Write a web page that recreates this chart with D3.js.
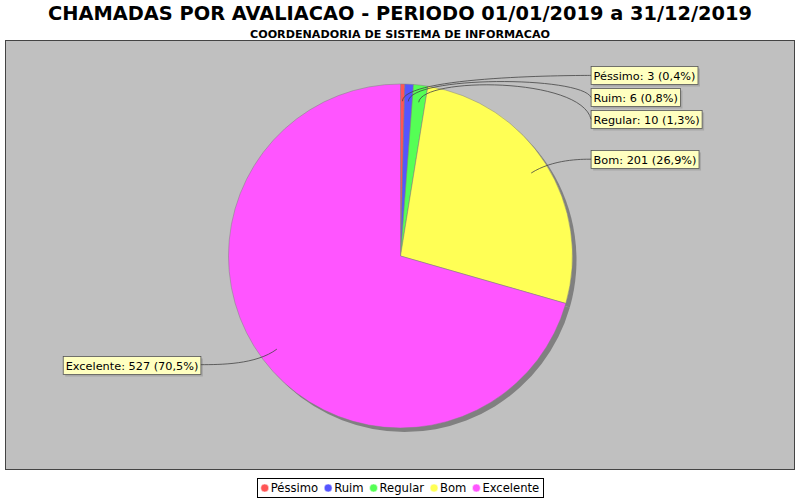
<!DOCTYPE html>
<html><head><meta charset="utf-8">
<script src="https://cdn.jsdelivr.net/npm/d3@7/dist/d3.min.js"></script>
<style>body{margin:0;background:#fff;} svg{display:block;}</style>
</head><body>
<svg id="chart" width="800" height="500"></svg>
<script>
const categories = ["Péssimo", "Ruim", "Regular", "Bom", "Excelente"];
const values = [3, 6, 10, 201, 527];
const colors = ["#FF5555", "#5555FF", "#55FF55", "#FFFF55", "#FF55FF"];
const titleText = "CHAMADAS POR AVALIACAO - PERIODO 01/01/2019 a 31/12/2019";
const subtitleText = "COORDENADORIA DE SISTEMA DE INFORMACAO";

const W = 800, H = 500;
const svg = d3.select("#chart");
svg.append("rect").attr("width", W).attr("height", H).attr("fill", "#fff");

// titles
svg.append("text").attr("x", 400).attr("y", 19.5).attr("text-anchor", "middle")
  .attr("font-family", "DejaVu Sans").attr("font-weight", "bold")
  .attr("font-size", 19).attr("textLength", 704).attr("lengthAdjust", "spacingAndGlyphs")
  .attr("fill", "#000").text(titleText);
svg.append("text").attr("x", 400).attr("y", 37.5).attr("text-anchor", "middle")
  .attr("font-family", "DejaVu Sans").attr("font-weight", "bold")
  .attr("font-size", 10).attr("textLength", 300).attr("lengthAdjust", "spacingAndGlyphs")
  .attr("fill", "#000").text(subtitleText);

// plot area
const plot = {x: 5.5, y: 40.5, w: 789, h: 429};
svg.append("rect").attr("x", plot.x).attr("y", plot.y).attr("width", plot.w).attr("height", plot.h)
  .attr("fill", "#C0C0C0").attr("stroke", "#444").attr("stroke-width", 1);

const cx = 400.5, cy = 256, r = 172;
const total = d3.sum(values);
const pie = d3.pie().sort(null).value(d => d.v).startAngle(0).endAngle(2 * Math.PI);
const data = categories.map((c, i) => ({c, v: values[i], color: colors[i]}));
const arcsData = pie(data);
const arc = d3.arc().innerRadius(0).outerRadius(r);

// shadow
const gShadow = svg.append("g").attr("transform", `translate(${cx + 4},${cy + 4})`);
gShadow.selectAll("path").data(arcsData).join("path").attr("d", arc).attr("fill", "#808080");

const g = svg.append("g").attr("transform", `translate(${cx},${cy})`);
g.selectAll("path").data(arcsData).join("path").attr("d", arc)
  .attr("fill", d => d.data.color).attr("stroke", "#808080").attr("stroke-width", 0.5);

// labels
const fmt = v => (Math.round(v * 1000) / 10).toFixed(1).replace(".", ",");
const linkR = r * 0.9, elbowR = r * 1.05;
const labels = arcsData.map(d => {
  const a = (d.startAngle + d.endAngle) / 2; // compass angle, clockwise from top
  const sx = Math.sin(a), sy = -Math.cos(a);
  return {
    text: `${d.data.c}: ${d.data.v} (${fmt(d.data.v / total)}%)`,
    right: sx >= 0,
    linkX: cx + sx * linkR, linkY: cy + sy * linkR,
    elbowX: cx + sx * elbowR, elbowY: cy + sy * elbowR
  };
});
const spacing = 22;
["right", "left"].forEach(side => {
  const arr = labels.filter(l => (side === "right") === l.right).sort((a, b) => a.elbowY - b.elbowY);
  let prev = -Infinity;
  arr.forEach(l => { l.y = Math.max(l.elbowY, prev + spacing); prev = l.y; });
});

const gap = 10;
const lg = svg.append("g");
labels.forEach(l => {
  const anchorX = l.right ? cx + elbowR : cx - elbowR;
  const targetX = l.right ? anchorX + gap : anchorX - gap - 9;
  const path = d3.path();
  path.moveTo(targetX, l.y);
  path.bezierCurveTo(anchorX, l.elbowY, l.elbowX, l.elbowY, l.linkX, l.linkY);
  lg.append("path").attr("d", path.toString()).attr("fill", "none")
    .attr("stroke", "#444").attr("stroke-width", 0.8);
  const t = lg.append("text").attr("font-family", "DejaVu Sans").attr("font-size", 11.3)
    .attr("fill", "#000").text(l.text);
  const tw = t.node().getComputedTextLength();
  const bw = tw + 5, bh = 18;
  const bx = l.right ? targetX : targetX - bw;
  const by = Math.round(l.y - bh / 2) + 0.5;
  lg.insert("rect", "text").attr("x", bx + 2).attr("y", by + 2).attr("width", bw).attr("height", bh)
    .attr("fill", "#979797").attr("fill-opacity", 0.6);
  lg.insert("rect", "text").attr("x", bx).attr("y", by).attr("width", bw).attr("height", bh)
    .attr("fill", "#FFFFC0").attr("stroke", "#555").attr("stroke-width", 0.8);
  t.attr("x", bx + 2.5).attr("y", by + 13);
});

// legend
const leg = svg.append("g");
const items = leg.selectAll("g").data(data).join("g");
const itemNodes = [];
items.each(function(d) {
  const gi = d3.select(this);
  gi.append("circle").attr("cx", 4).attr("cy", 0).attr("r", 4).attr("fill", d.color)
    .attr("stroke", "#fff").attr("stroke-width", 0.5);
  const t = gi.append("text").attr("x", 10).attr("y", 4).attr("font-family", "DejaVu Sans")
    .attr("font-size", 11.6).attr("fill", "#000").text(d.c);
  const w = 10 + t.node().getComputedTextLength();
  itemNodes.push({gi, w});
});
const itemGap = 6;
const totalW = d3.sum(itemNodes, n => n.w) + itemGap * (itemNodes.length - 1);
let startX = 400 - totalW / 2;
itemNodes.forEach(n => { n.gi.attr("transform", `translate(${startX},488)`); startX += n.w + itemGap; });
leg.insert("rect", "g").attr("x", Math.round(400 - totalW / 2 - 4) + 0.5).attr("y", 478.5)
  .attr("width", Math.round(totalW + 7)).attr("height", 19)
  .attr("fill", "#fff").attr("stroke", "#000").attr("stroke-width", 1);
</script>
</body></html>
